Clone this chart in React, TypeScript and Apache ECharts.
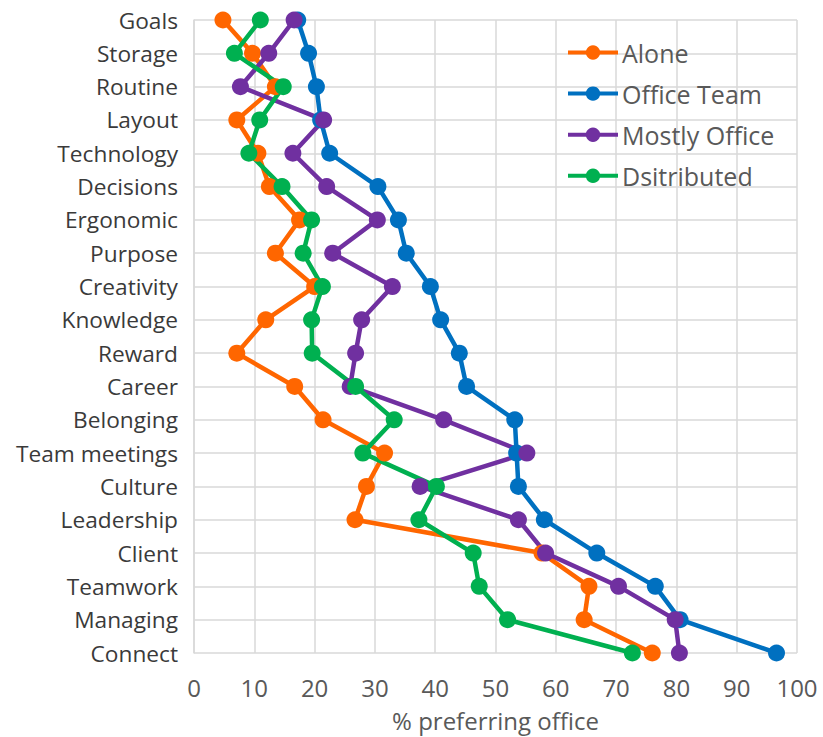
import React, { useEffect, useRef } from "react";
import * as echarts from "echarts";

const categories = [
  "Goals", "Storage", "Routine", "Layout", "Technology", "Decisions", "Ergonomic",
  "Purpose", "Creativity", "Knowledge", "Reward", "Career", "Belonging",
  "Team meetings", "Culture", "Leadership", "Client", "Teamwork", "Managing", "Connect",
];

const alone = [4.8, 9.7, 13.5, 7.1, 10.6, 12.5, 17.5, 13.5, 20.0, 11.9, 7.1, 16.7, 21.4, 31.6, 28.6, 26.7, 57.7, 65.5, 64.7, 76.0];
const officeTeam = [17.2, 19.0, 20.3, 21.0, 22.5, 30.5, 33.9, 35.2, 39.2, 40.9, 44.0, 45.2, 53.2, 53.5, 53.8, 58.1, 66.8, 76.5, 80.6, 96.6];
const mostlyOffice = [16.6, 12.4, 7.7, 21.5, 16.4, 22.0, 30.4, 23.0, 32.9, 27.8, 26.8, 25.9, 41.4, 55.2, 37.5, 53.8, 58.3, 70.4, 79.8, 80.5];
const distributed = [11.0, 6.7, 14.8, 10.9, 9.1, 14.6, 19.5, 18.1, 21.3, 19.5, 19.6, 26.8, 33.2, 28.0, 40.2, 37.3, 46.3, 47.3, 52.0, 72.7];

const seriesNames = ["Alone", "Office Team", "Mostly Office", "Dsitributed"];
const seriesColors = ["#FF6600", "#0070C0", "#7030A0", "#00B050"];
const seriesData = [alone, officeTeam, mostlyOffice, distributed];

const FONT = "'Open Sans', sans-serif";

export default function App() {
  const ref = useRef<HTMLDivElement>(null);
  useEffect(() => {
    document.body.style.margin = "0";
    const chart = echarts.init(ref.current!, undefined, { renderer: "svg" });
    chart.setOption({
      animation: false,
      backgroundColor: "#ffffff",
      textStyle: { fontFamily: FONT },
      grid: { left: 194, right: 26, top: 20, bottom: 72, containLabel: false },
      legend: {
        orient: "vertical",
        left: 566,
        top: 40,
        padding: 0,
        itemWidth: 50,
        itemHeight: 18,
        itemGap: 16.1,
        data: seriesNames,
        lineStyle: { width: 4 },
        textStyle: { fontSize: 25, color: "#595959", fontFamily: FONT, padding: [0, 0, 0, -1] },
      },
      xAxis: {
        type: "value",
        min: 0,
        max: 100,
        interval: 10,
        name: "% preferring office",
        nameLocation: "middle",
        nameGap: 55,
        nameTextStyle: { fontSize: 24, color: "#595959", fontFamily: FONT },
        axisLine: { show: false },
        axisTick: { show: false },
        axisLabel: { fontSize: 24, color: "#595959", margin: 22, fontFamily: FONT },
        splitLine: { show: true, lineStyle: { color: "#d9d9d9", width: 1.5 } },
      },
      yAxis: {
        type: "category",
        inverse: true,
        boundaryGap: false,
        data: categories,
        axisLine: { show: true, lineStyle: { color: "#d9d9d9", width: 1.5 } },
        axisTick: { show: false },
        axisLabel: { fontSize: 22.7, color: "#3a3a3a", margin: 16, fontFamily: FONT, interval: 0 },
        splitLine: { show: true, interval: 0, lineStyle: { color: "#d9d9d9", width: 1.5 } },
      },
      series: seriesNames.map((name, i) => ({
        name,
        type: "line",
        data: seriesData[i],
        symbol: "circle",
        symbolSize: 17,
        showAllSymbol: true,
        color: seriesColors[i],
        lineStyle: { width: 4.5, color: seriesColors[i] },
        itemStyle: { color: seriesColors[i] },
      })),
    });
    return () => chart.dispose();
  }, []);
  return <div ref={ref} style={{ width: 823, height: 737 }} />;
}
